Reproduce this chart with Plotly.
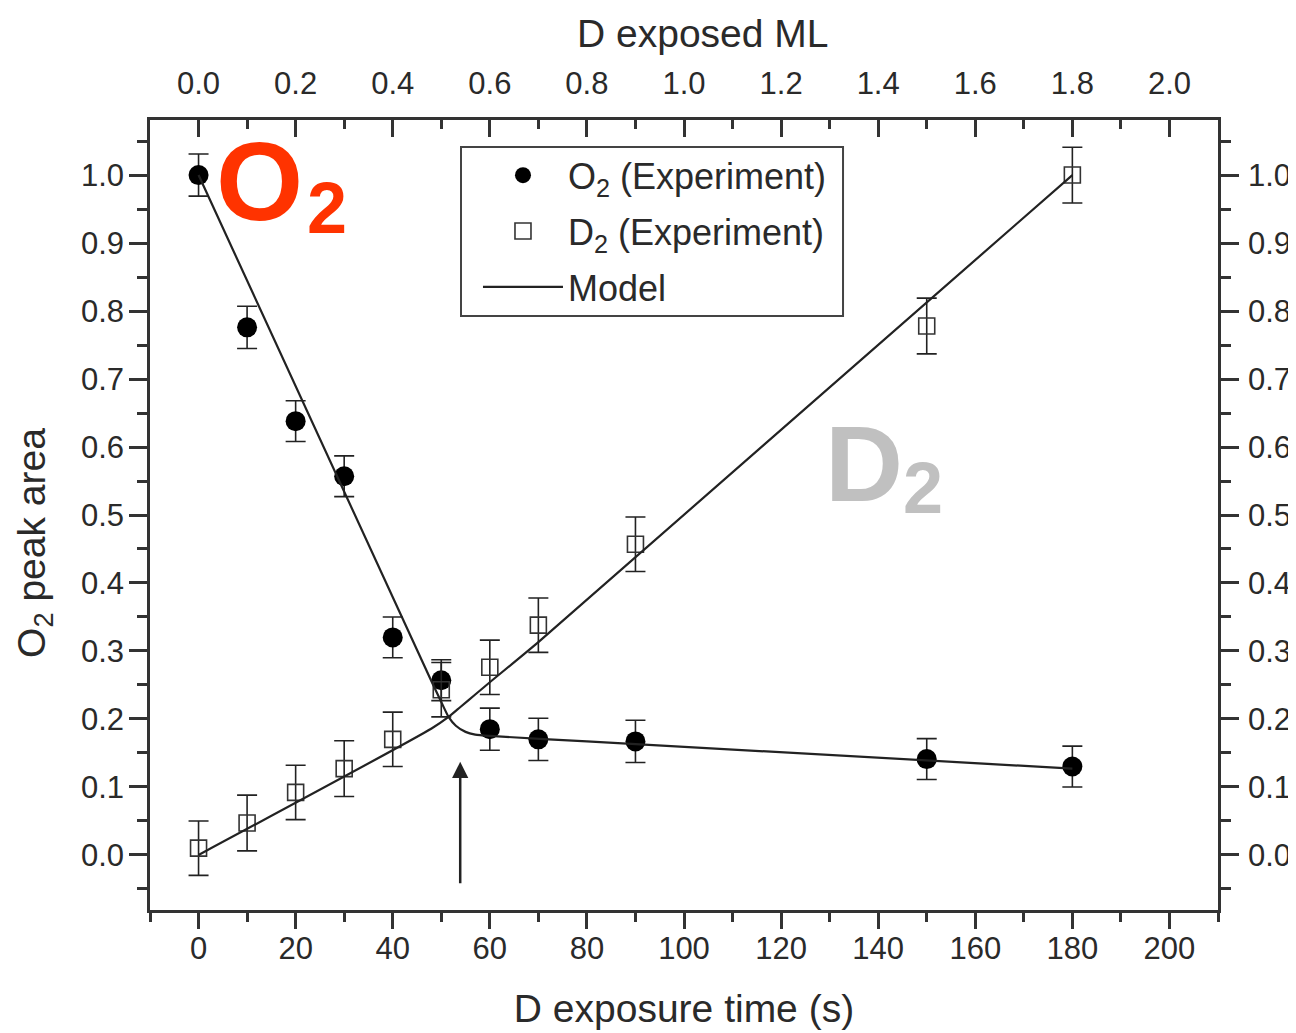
import plotly.graph_objects as go

# ---- data ----
time_s = [0, 10, 20, 30, 40, 50, 60, 70, 90, 150, 180]
o2_exp = [1.0, 0.776, 0.638, 0.557, 0.320, 0.257, 0.185, 0.170, 0.167, 0.141, 0.130]
o2_err = [0.031, 0.031, 0.030, 0.030, 0.030, 0.030, 0.031, 0.031, 0.031, 0.030, 0.030]
d2_exp = [0.010, 0.047, 0.092, 0.127, 0.170, 0.243, 0.276, 0.338, 0.457, 0.778, 1.0]
d2_err = [0.040, 0.041, 0.040, 0.041, 0.040, 0.040, 0.040, 0.040, 0.040, 0.041, 0.041]

model_o2_t = [0, 48, 50, 51.5, 53, 55, 57, 60, 80, 180]
model_o2 = [1.0, 0.255, 0.225, 0.203, 0.190, 0.181, 0.177, 0.175, 0.167, 0.127]
model_d2_t = [0, 48, 51.5, 54, 57, 60, 70, 180]
model_d2 = [0.0, 0.186, 0.203, 0.218, 0.236, 0.254, 0.313, 1.0]

arrow_t = 53.9
arrow_from, arrow_to = -0.044, 0.137

font_family = "Liberation Sans, Arial, sans-serif"
txt = "#2a2a2a"
axc = "#333333"

fig = go.Figure()

fig.add_trace(go.Scatter(
    x=time_s, y=o2_exp, mode="markers", name="O<sub>2</sub> (Experiment)", legendgroup="o2",
    marker=dict(symbol="circle", size=20, color="black", line=dict(width=0)),
    error_y=dict(type="data", array=o2_err, visible=True, thickness=1.6, width=10, color="#222"),
))
fig.add_trace(go.Scatter(
    x=time_s, y=d2_exp, mode="markers", name="D<sub>2</sub> (Experiment)", legendgroup="d2",
    marker=dict(symbol="square-open", size=16, color="#333", line=dict(width=1.6)),
    error_y=dict(type="data", array=d2_err, visible=True, thickness=1.6, width=10, color="#222"),
))
fig.add_trace(go.Scatter(
    x=model_o2_t, y=model_o2, mode="lines", name="Model", legendgroup="model",
    line=dict(color="#222", width=2.2, shape="spline", smoothing=0.6),
))
fig.add_trace(go.Scatter(
    x=model_d2_t, y=model_d2, mode="lines", name="Model", legendgroup="model", showlegend=False,
    line=dict(color="#222", width=2.2, shape="spline", smoothing=0.6),
))
# invisible trace to activate the secondary axes
fig.add_trace(go.Scatter(x=[0], y=[0], xaxis="x2", yaxis="y2", mode="markers",
                         marker=dict(opacity=0), showlegend=False, hoverinfo="skip"))

tickfont = dict(family=font_family, size=31, color=txt)
titlefont = dict(family=font_family, size=39, color=txt)

# page body has an 8px margin, so the figure is drawn slightly smaller
fig.update_layout(
    width=1288, height=1025,
    margin=dict(l=142, r=78, t=112, b=123),
    paper_bgcolor="white", plot_bgcolor="white",
    font=dict(family=font_family, color=txt),
    xaxis=dict(
        range=[-10, 210], tick0=0, dtick=20, showgrid=False, zeroline=False, automargin=False,
        showline=True, linecolor=axc, linewidth=2.5, mirror=False,
        ticks="outside", ticklen=16, tickwidth=2.5, tickcolor=axc,
        minor=dict(dtick=10, ticks="outside", ticklen=9, tickwidth=2.5, tickcolor=axc),
        tickfont=tickfont, ticklabelstandoff=-7,
        title=dict(text="D exposure time (s)", font=titlefont, standoff=30),
    ),
    xaxis2=dict(
        overlaying="x", side="top", anchor="y", automargin=False,
        range=[-0.1, 2.1], tick0=0, dtick=0.2, tickformat=".1f", showgrid=False, zeroline=False,
        showline=True, linecolor=axc, linewidth=2.5,
        ticks="inside", ticklen=17, tickwidth=2.5, tickcolor=axc,
        minor=dict(dtick=0.1, ticks="inside", ticklen=9, tickwidth=2.5, tickcolor=axc),
        tickfont=tickfont, ticklabelstandoff=11,
    ),
    yaxis=dict(
        range=[-0.081, 1.081], tick0=0, dtick=0.1, tickformat=".1f", showgrid=False, zeroline=False,
        showline=True, linecolor=axc, linewidth=2.5, automargin=False,
        ticks="outside", ticklen=18, tickwidth=2.5, tickcolor=axc,
        minor=dict(dtick=0.05, ticks="outside", ticklen=10, tickwidth=2.5, tickcolor=axc),
        tickfont=tickfont, ticklabelstandoff=-1,
    ),
    yaxis2=dict(
        overlaying="y", side="right", anchor="x", automargin=False,
        range=[-0.081, 1.081], tick0=0, dtick=0.1, tickformat=".1f", showgrid=False, zeroline=False,
        showline=True, linecolor=axc, linewidth=2.5,
        ticks="outside", ticklen=18, tickwidth=2.5, tickcolor=axc,
        minor=dict(dtick=0.05, ticks="outside", ticklen=10, tickwidth=2.5, tickcolor=axc),
        tickfont=tickfont, ticklabelstandoff=3,
    ),
    legend=dict(
        x=0.3071, y=0.968, xanchor="left", yanchor="top",
        bgcolor="rgba(0,0,0,0)", borderwidth=0,
        font=dict(family=font_family, size=36, color=txt),
        tracegroupgap=6, itemwidth=80, traceorder="grouped",
    ),
    showlegend=True,
)

# axis titles placed as annotations (top and left)
fig.add_annotation(x=0.5169, y=1.110, xref="paper", yref="paper", xanchor="center", yanchor="middle",
                   text="D exposed ML", showarrow=False, font=titlefont)
fig.add_annotation(x=-0.1077, y=0.4646, xref="paper", yref="paper", xanchor="center", yanchor="middle",
                   text="O<sub>2</sub> peak area", textangle=-90, showarrow=False, font=titlefont)

# legend frame
fig.add_shape(type="rect", xref="paper", yref="paper",
              x0=0.2912, x1=0.6489, y0=0.7519, y1=0.9658,
              line=dict(color="#444", width=2), fillcolor="white", layer="above")

fig.add_annotation(
    x=arrow_t, y=arrow_to, ax=arrow_t, ay=arrow_from, xref="x", yref="y", axref="x", ayref="y",
    text="", showarrow=True, arrowhead=2, arrowsize=1.3, arrowwidth=2.5, arrowcolor="#222",
)

# big species labels
fig.add_annotation(x=12.46, y=0.990, xref="x", yref="y", xanchor="center", yanchor="middle",
                   text="<b>O</b>", showarrow=False,
                   font=dict(family=font_family, size=112, color="#FF3300"))
fig.add_annotation(x=26.36, y=0.952, xref="x", yref="y", xanchor="center", yanchor="middle",
                   text="<b>2</b>", showarrow=False,
                   font=dict(family=font_family, size=72, color="#FF3300"))
fig.add_annotation(x=137.05, y=0.5757, xref="x", yref="y", xanchor="center", yanchor="middle",
                   text="<b>D</b>", showarrow=False,
                   font=dict(family=font_family, size=108, color="#C0C0C0"))
fig.add_annotation(x=149.2, y=0.539, xref="x", yref="y", xanchor="center", yanchor="middle",
                   text="<b>2</b>", showarrow=False,
                   font=dict(family=font_family, size=72, color="#C0C0C0"))

fig.write_html("out.html")
